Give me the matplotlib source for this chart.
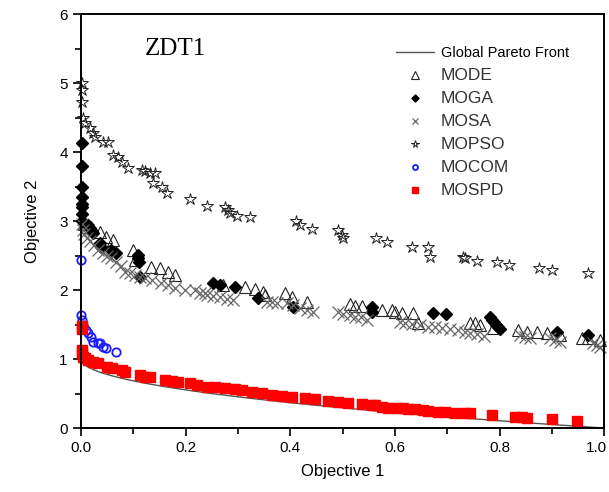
import numpy as np
import matplotlib
matplotlib.use("Agg")
import matplotlib.pyplot as plt
from matplotlib.ticker import MultipleLocator
from matplotlib.transforms import ScaledTranslation

# ---- data ----
mode_x = [0.005, 0.010, 0.019, 0.036, 0.048, 0.061, 0.099, 0.103, 0.134, 0.151, 0.166, 0.180,
          0.272, 0.314, 0.333, 0.348, 0.352, 0.390, 0.403, 0.432, 0.514, 0.524, 0.537, 0.576,
          0.595, 0.600, 0.614, 0.635, 0.644, 0.744, 0.753, 0.763, 0.788, 0.836, 0.853, 0.872,
          0.891, 0.916, 0.958, 0.969, 0.992]
mode_y = [2.95, 2.92, 2.91, 2.84, 2.77, 2.72, 2.58, 2.43, 2.33, 2.32, 2.26, 2.22,
          2.07, 2.04, 2.01, 1.97, 1.93, 1.96, 1.90, 1.83, 1.80, 1.77, 1.77, 1.71,
          1.71, 1.68, 1.67, 1.67, 1.52, 1.52, 1.52, 1.49, 1.45, 1.42, 1.39, 1.39,
          1.38, 1.35, 1.30, 1.30, 1.28]

moga_x = [0.001, 0.001, 0.001, 0.001, 0.001, 0.001, 0.001, 0.001,
          0.013, 0.017, 0.021, 0.023, 0.036, 0.038, 0.057, 0.067, 0.109, 0.109, 0.111, 0.113,
          0.252, 0.266, 0.294, 0.338, 0.405, 0.556, 0.556, 0.673, 0.698,
          0.782, 0.786, 0.790, 0.793, 0.797, 0.801, 0.910, 0.969]
moga_y = [4.13, 3.80, 3.49, 3.35, 3.25, 3.20, 3.10, 3.00,
          2.94, 2.90, 2.86, 2.83, 2.68, 2.62, 2.58, 2.54, 2.51, 2.46, 2.41, 2.19,
          2.10, 2.07, 2.04, 1.88, 1.75, 1.75, 1.68, 1.67, 1.65,
          1.61, 1.57, 1.54, 1.49, 1.46, 1.43, 1.39, 1.35]

mosa_x = [0.001, 0.003, 0.006, 0.011, 0.017, 0.025, 0.033, 0.042, 0.050, 0.057, 0.067, 0.076,
          0.084, 0.094, 0.103, 0.113, 0.122, 0.136, 0.153, 0.166, 0.180, 0.199, 0.218, 0.228,
          0.237, 0.241, 0.252, 0.266, 0.279, 0.291, 0.356, 0.365, 0.375, 0.394, 0.405, 0.419,
          0.432, 0.444, 0.491, 0.501, 0.514, 0.524, 0.535, 0.547, 0.610, 0.620, 0.633, 0.648,
          0.663, 0.677, 0.690, 0.706, 0.721, 0.734, 0.744, 0.757, 0.771, 0.839, 0.849, 0.859,
          0.897, 0.906, 0.916, 0.979, 0.987, 0.992]
mosa_y = [2.95, 2.87, 2.81, 2.75, 2.71, 2.65, 2.58, 2.54, 2.49, 2.46, 2.41, 2.35,
          2.26, 2.25, 2.22, 2.19, 2.17, 2.14, 2.10, 2.07, 2.03, 2.00, 2.00, 1.96,
          1.96, 1.93, 1.91, 1.90, 1.87, 1.86, 1.83, 1.83, 1.81, 1.81, 1.78, 1.74,
          1.71, 1.68, 1.68, 1.65, 1.64, 1.61, 1.61, 1.57, 1.54, 1.52, 1.51, 1.49,
          1.46, 1.46, 1.45, 1.43, 1.42, 1.39, 1.38, 1.36, 1.33, 1.35, 1.32, 1.30,
          1.30, 1.28, 1.25, 1.23, 1.20, 1.17]

mopso_x = [0.001, 0.002, 0.002, 0.004, 0.008, 0.017, 0.023, 0.027, 0.042, 0.052, 0.061, 0.071,
           0.078, 0.090, 0.117, 0.122, 0.132, 0.141, 0.138, 0.155, 0.164, 0.208, 0.241, 0.275,
           0.281, 0.285, 0.298, 0.323, 0.411, 0.419, 0.442, 0.491, 0.499, 0.501, 0.564, 0.585,
           0.633, 0.663, 0.667, 0.730, 0.734, 0.757, 0.795, 0.818, 0.876, 0.901, 0.969]
mopso_y = [5.00, 4.90, 4.72, 4.49, 4.42, 4.35, 4.27, 4.22, 4.15, 4.15, 3.96, 3.93,
           3.86, 3.77, 3.74, 3.72, 3.70, 3.70, 3.55, 3.49, 3.40, 3.32, 3.22, 3.20,
           3.16, 3.12, 3.07, 3.06, 3.00, 2.94, 2.88, 2.87, 2.80, 2.75, 2.75, 2.70,
           2.62, 2.62, 2.48, 2.48, 2.46, 2.42, 2.41, 2.36, 2.32, 2.29, 2.25]

mocom_x = [0.000, 0.000, 0.002, 0.004, 0.010, 0.013, 0.019, 0.023, 0.033, 0.036, 0.042, 0.048, 0.067]
mocom_y = [2.43, 1.64, 1.57, 1.49, 1.42, 1.38, 1.32, 1.25, 1.23, 1.23, 1.17, 1.16, 1.10]

mospd_x = [0.001, 0.002, 0.002, 0.002, 0.004, 0.008, 0.013, 0.023, 0.033, 0.050, 0.059, 0.078,
           0.084, 0.113, 0.122, 0.132, 0.161, 0.174, 0.185, 0.208, 0.222, 0.241, 0.256, 0.275,
           0.294, 0.308, 0.327, 0.346, 0.365, 0.384, 0.403, 0.428, 0.447, 0.472, 0.491, 0.511,
           0.537, 0.556, 0.562, 0.576, 0.587, 0.604, 0.616, 0.625, 0.639, 0.654, 0.663, 0.683,
           0.696, 0.715, 0.734, 0.744, 0.786, 0.830, 0.843, 0.853, 0.901, 0.948]
mospd_y = [1.48, 1.43, 1.13, 1.09, 1.03, 1.01, 0.99, 0.96, 0.94, 0.88, 0.87, 0.84,
           0.81, 0.77, 0.74, 0.74, 0.70, 0.68, 0.67, 0.65, 0.62, 0.59, 0.59, 0.58,
           0.57, 0.55, 0.52, 0.51, 0.48, 0.46, 0.45, 0.43, 0.42, 0.39, 0.38, 0.36,
           0.35, 0.33, 0.33, 0.30, 0.29, 0.29, 0.29, 0.28, 0.28, 0.26, 0.25, 0.23,
           0.23, 0.22, 0.22, 0.22, 0.19, 0.16, 0.16, 0.14, 0.13, 0.10]

# ZDT1 true front: f2 = 1 - sqrt(f1)
front_x = np.linspace(0, 1, 400)
front_y = 1 - np.sqrt(front_x)

plt.rcParams['font.family'] = ['Liberation Sans', 'DejaVu Sans']

fig = plt.figure(figsize=(6.09, 4.92), dpi=100)
ax = fig.add_axes([0.133, 0.130, 0.859, 0.8415])

ax.plot(front_x, front_y, color='#555555', lw=1.0, label='Global Pareto Front')
ax.plot(mode_x, mode_y, ls='none', marker='^', ms=8.5, mfc='none', mec='#222222', mew=0.8,
        label='MODE', clip_on=False)
ax.plot(moga_x, moga_y, ls='none', marker='D', ms=6, color='black', label='MOGA', clip_on=False)
ax.plot(mosa_x, mosa_y, ls='none', marker='x', ms=8, color='#666666', mew=0.9,
        label='MOSA', clip_on=False)
ax.plot(mopso_x, mopso_y, ls='none', marker='*', ms=9, mfc='none', mec='#222222', mew=0.7,
        label='MOPSO', clip_on=False)
ax.plot(mocom_x, mocom_y, ls='none', marker='o', ms=6, mfc='none', mec='#1a1aff', mew=1.3,
        label='MOCOM', clip_on=False)
ax.plot(mospd_x, mospd_y, ls='none', marker='s', ms=6.5, color='#ff0000', label='MOSPD',
        clip_on=False)

ax.set_xlim(0, 1.0)
ax.set_ylim(0, 6)
ax.xaxis.set_major_locator(MultipleLocator(0.2))
ax.xaxis.set_minor_locator(MultipleLocator(0.1))
ax.yaxis.set_major_locator(MultipleLocator(1))
ax.yaxis.set_minor_locator(MultipleLocator(0.5))
ax.xaxis.set_major_formatter(lambda v, pos: f'{v:.1f}')
ax.tick_params(which='major', direction='out', length=6, width=1.2, labelsize=11)
ax.tick_params(which='minor', direction='out', length=4, width=1.2)
for sp in ax.spines.values():
    sp.set_linewidth(1.4)

ax.set_xlabel('Objective 1', fontsize=12, labelpad=6)
ax.set_ylabel('Objective 2', fontsize=12, labelpad=14)

ax.text(0.122, 0.9, 'ZDT1', transform=ax.transAxes, fontsize=18,
        family=['Liberation Serif', 'DejaVu Serif'])

leg = ax.legend(loc='upper right', bbox_to_anchor=(0.958, 0.955), frameon=False,
                markerscale=0.6, handlelength=2.6, labelspacing=0.55, fontsize=10.5,
                handletextpad=0.5)
for t in leg.get_texts()[1:]:
    t.set_fontsize(12.5)
    t.set_color('#333333')

# last x label sits at the figure edge; nudge it inward so it stays whole
fig.canvas.draw()
for tick in ax.xaxis.get_major_ticks():
    if abs(tick.get_loc() - 1.0) < 1e-9:
        lab = tick.label1
        lab.set_transform(lab.get_transform() + ScaledTranslation(-0.08, 0, fig.dpi_scale_trans))

fig.savefig('out.png', dpi=100)
